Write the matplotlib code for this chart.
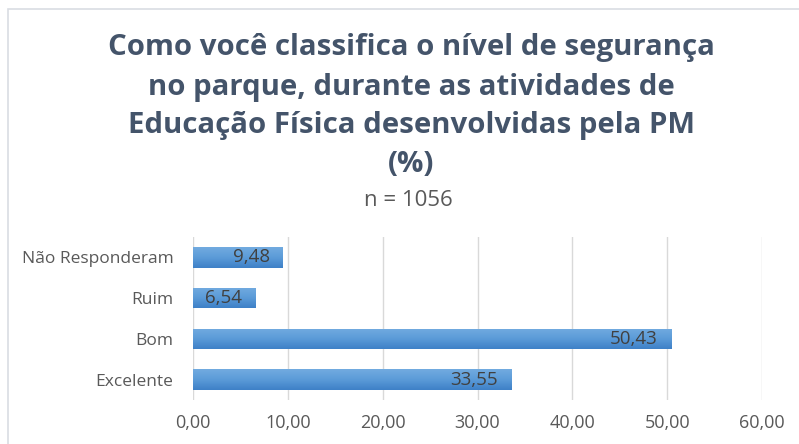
import matplotlib
matplotlib.use("Agg")
import matplotlib.pyplot as plt
import numpy as np
from matplotlib.patches import Rectangle
from matplotlib.colors import LinearSegmentedColormap

categories = ["Excelente", "Bom", "Ruim", "Não Responderam"]
values = [33.55, 50.43, 6.54, 9.48]
xticks = [0, 10, 20, 30, 40, 50, 60]
title_lines = ["Como você classifica o nível de segurança",
               "no parque, durante as atividades de",
               "Educação Física desenvolvidas pela PM",
               "(%)"]
subtitle = "n = 1056"

def fmt(v):
    return f"{v:.2f}".replace(".", ",")

W, H = 799, 444
FONT = "Open Sans"
fig = plt.figure(figsize=(W / 100, H / 100), dpi=100)
fig.patch.set_facecolor("white")

# chart frame
fig.add_artist(Rectangle((8 / W, -0.1), 1.2, 1 - 9 / H + 0.1, transform=fig.transFigure,
                         fill=False, edgecolor="#d9dde3", linewidth=1.2))

title_color = "#44546A"
tick_color = "#595959"
cx = 411 / W
ys = [47, 87, 126, 164]
for line, y in zip(title_lines, ys):
    fig.text(cx, 1 - y / H, line, ha="center", va="center", fontsize=21.2,
             fontweight="bold", color=title_color, family=FONT)
fig.text(408 / W, 1 - 200 / H, subtitle, ha="center", va="center", fontsize=16,
         color=tick_color, family=FONT)

left, right, top, bottom = 193, 762, 237, 400
ax = fig.add_axes([left / W, 1 - bottom / H, (right - left) / W, (bottom - top) / H])
ax.set_xlim(0, 60)
ax.set_ylim(-0.5, len(categories) - 0.5)
ypos = np.arange(len(categories))
bars = ax.barh(ypos, values, height=0.5, color="#5592d4", zorder=3)

# vertical gradient on each bar
grad = np.linspace(0, 1, 64).reshape(-1, 1)
cmap = LinearSegmentedColormap.from_list("g", ["#3e80c7", "#5b9bd8", "#72abe0"])
for b in bars:
    x0, y0 = b.get_x(), b.get_y()
    w, h = b.get_width(), b.get_height()
    im = ax.imshow(grad, cmap=cmap, extent=(x0, x0 + w, y0, y0 + h), origin="lower",
                   aspect="auto", zorder=4, interpolation="bicubic")
    im.set_clip_path(b)

for b, v in zip(bars, values):
    ax.text(b.get_width() - 1.4, b.get_y() + b.get_height() / 2, fmt(v),
            ha="right", va="center", fontsize=13.5, color="#404040", zorder=5, family=FONT)

ax.set_xticks(xticks)
ax.set_xticklabels([fmt(t) for t in xticks])
ax.set_yticks(ypos)
ax.set_yticklabels(categories)
ax.tick_params(axis="x", length=0, labelsize=13, labelcolor=tick_color, pad=10)
ax.tick_params(axis="y", length=0, labelsize=12.5, labelcolor=tick_color, pad=14)
for lab in ax.get_xticklabels() + ax.get_yticklabels():
    lab.set_family(FONT)
ax.grid(axis="x", color="#d9d9d9", linewidth=1, zorder=0)
for s in ax.spines.values():
    s.set_visible(False)
ax.set_facecolor("none")

fig.savefig("out.png", dpi=100)
